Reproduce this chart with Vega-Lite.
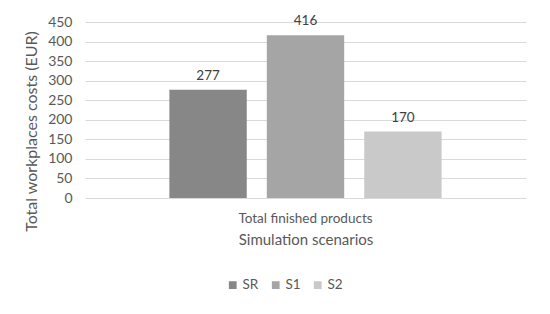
{
  "$schema": "https://vega.github.io/schema/vega-lite/v6.json",
  "autosize": {"type": "none"},
  "width": 441,
  "height": 176,
  "padding": {"left": 85, "top": 22, "right": 24, "bottom": 116},
  "background": "white",
  "config": {
    "font": "Lato",
    "view": {"stroke": null},
    "axis": {"labelColor": "#595959", "titleColor": "#595959", "titleFontWeight": "normal", "labelFont": "Lato", "titleFont": "Lato"},
    "legend": {"labelColor": "#595959", "labelFont": "Lato"}
  },
  "data": {
    "values": [
      {"category": "Total finished products", "scenario": "SR", "value": 277},
      {"category": "Total finished products", "scenario": "S1", "value": 416},
      {"category": "Total finished products", "scenario": "S2", "value": 170}
    ]
  },
  "encoding": {
    "x": {
      "field": "category",
      "type": "nominal",
      "title": "Simulation scenarios",
      "scale": {"paddingOuter": 0.31, "paddingInner": 0},
      "axis": {"labelAngle": 0, "labelFontSize": 13.5, "labelPadding": 13, "ticks": false, "domainColor": "#d9d9d9", "titleFontSize": 15, "titlePadding": 8}
    },
    "xOffset": {
      "field": "scenario",
      "type": "nominal",
      "sort": ["SR", "S1", "S2"],
      "scale": {"paddingInner": 0.206, "paddingOuter": 0}
    },
    "y": {
      "field": "value",
      "type": "quantitative",
      "title": "Total workplaces costs (EUR)",
      "scale": {"domain": [0, 450]},
      "axis": {"values": [0, 50, 100, 150, 200, 250, 300, 350, 400, 450], "domain": false, "ticks": false, "gridColor": "#d9d9d9", "labelFontSize": 14, "labelPadding": 13, "titleFontSize": 16, "titlePadding": 8, "titleY": 109}
    }
  },
  "layer": [
    {
      "mark": {"type": "bar"},
      "encoding": {
        "color": {
          "field": "scenario",
          "type": "nominal",
          "sort": ["SR", "S1", "S2"],
          "scale": {"domain": ["SR", "S1", "S2"], "range": ["#878787", "#a5a5a5", "#c9c9c9"]},
          "legend": {"title": null, "orient": "none", "direction": "horizontal", "legendX": 141, "legendY": 256, "symbolType": "square", "symbolSize": 60, "symbolStrokeWidth": 0, "labelFontSize": 13.5, "columnPadding": 10, "labelOffset": 3}
        }
      }
    },
    {
      "mark": {"type": "text", "baseline": "bottom", "dy": -7, "fontSize": 13.5, "color": "#404040", "font": "Lato"},
      "encoding": {"text": {"field": "value", "type": "quantitative"}}
    }
  ]
}
